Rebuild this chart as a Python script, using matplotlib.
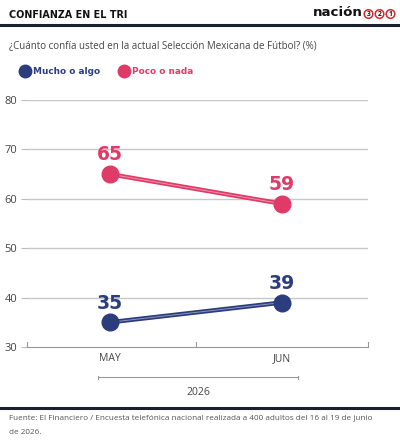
import matplotlib
matplotlib.use("Agg")
import matplotlib.pyplot as plt
from matplotlib.lines import Line2D

months = ["MAY", "JUN"]
mucho = [35, 39]
poco = [65, 59]
yticks = [30, 40, 50, 60, 70, 80]

NAVY = "#2c3d7d"
PINK = "#e03a68"
DARK = "#1c1f2e"
GRAY = "#555555"
HEAVY = ["DejaVu Sans"]

plt.rcParams["font.family"] = ["Open Sans", "DejaVu Sans"]

W, H = 400, 440
fig = plt.figure(figsize=(W / 100, H / 100), dpi=100)


def fy(y):
    return 1 - y / H


def fx(x):
    return x / W


# header
fig.text(fx(9), fy(15), "CONFIANZA EN EL TRI", fontsize=6.9, fontweight="bold",
         family=HEAVY, color="#111111", va="center")
fig.text(fx(363), fy(13), "nación", fontsize=9.6, fontweight="bold",
         family=HEAVY, color="#111111", va="center", ha="right")
for i, d in enumerate(["3", "2", "1"]):
    fig.text(fx(368.5 + i * 11), fy(14), d, fontsize=4.8, fontweight="bold", color="#111111",
             ha="center", va="center",
             bbox=dict(boxstyle="circle,pad=0.12", fc="white", ec="#d8272d", lw=1.1))
fig.add_artist(Line2D([0, 1], [fy(25), fy(25)], color=DARK, lw=2.2))

fig.text(fx(9), fy(46), "¿Cuánto confía usted en la actual Selección Mexicana de Fútbol? (%)",
         fontsize=7.0, color="#444444", va="center")

# legend
for x, lab, c in [(25, "Mucho o algo", NAVY), (124, "Poco o nada", PINK)]:
    fig.add_artist(Line2D([fx(x)], [fy(71)], marker="o", ms=9, color=c, lw=0))
    fig.text(fx(x + 8), fy(71), lab, fontsize=6.4, fontweight="bold",
             family=HEAVY, color=c, va="center")

ax = fig.add_axes([fx(27), fy(347), fx(368) - fx(27), fy(100) - fy(347)])
ax.set_ylim(30, 80)
ax.set_xlim(-0.48, 1.5)
ax.set_yticks(yticks)
ax.set_yticklabels([str(v) for v in yticks], fontsize=8, color="#444444")
ax.tick_params(axis="y", length=4, width=0.8, color="#bbbbbb", pad=3)
ax.set_xticks([])
for v in yticks[1:]:
    ax.axhline(v, color="#c8c8c8", lw=1, zorder=1)
for s in ["top", "right", "left"]:
    ax.spines[s].set_visible(False)
ax.spines["bottom"].set_color("#999999")
ax.spines["bottom"].set_linewidth(0.8)
for xb in [-0.48, 0.5, 1.5]:
    ax.plot([xb, xb], [30, 31], color="#999999", lw=0.8, clip_on=False)

xs = list(range(len(months)))
for vals, c in [(poco, PINK), (mucho, NAVY)]:
    ax.plot(xs, vals, color=c, lw=3.2, zorder=3, solid_capstyle="butt")
    ax.plot(xs, vals, color="white", lw=0.7, alpha=0.45, zorder=3.5)
    ax.plot(xs, vals, "o", ms=12, color=c, zorder=4)
    for x, v in zip(xs, vals):
        ax.annotate(str(v), (x, v), xytext=(0, 7), textcoords="offset points",
                    ha="center", va="bottom", fontsize=13.5, fontweight="bold",
                    family=HEAVY, color=c, zorder=5)

for x, m in zip(xs, months):
    ax.text(x, 30 - 11.5 / 4.94, m, fontsize=7.5, color="#444444",
            ha="center", va="center", clip_on=False)

# year bracket
fig.add_artist(Line2D([fx(98), fx(298)], [fy(377), fy(377)], color="#999999", lw=0.8))
for xb in [98, 298]:
    fig.add_artist(Line2D([fx(xb), fx(xb)], [fy(375.5), fy(378.5)], color="#999999", lw=0.8))
fig.text(fx(198), fy(392), "2026", fontsize=7.5, color="#444444", ha="center", va="center")

fig.add_artist(Line2D([0, 1], [fy(408), fy(408)], color=DARK, lw=2.2))
fig.text(fx(9), fy(418), "Fuente: El Financiero / Encuesta telefónica nacional realizada a 400 adultos del 16 al 19 de junio",
         fontsize=5.85, color=GRAY, va="center")
fig.text(fx(9), fy(432), "de 2026.", fontsize=5.85, color=GRAY, va="center")

fig.savefig("out.png", dpi=100)
